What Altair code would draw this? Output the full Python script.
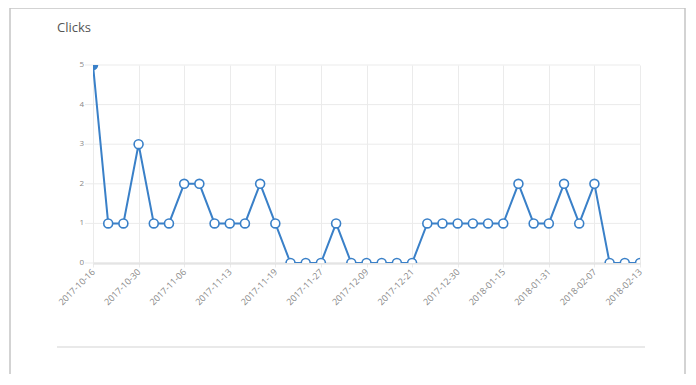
import altair as alt
import pandas as pd

# ---- data ----
clicks = [5, 1, 1, 3, 1, 1, 2, 2, 1, 1,
          1, 2, 1, 0, 0, 0, 1, 0, 0, 0,
          0, 0, 1, 1, 1, 1, 1, 1, 2, 1,
          1, 2, 1, 2, 0, 0, 0]
tick_labels = ["2017-10-16", "2017-10-30", "2017-11-06", "2017-11-13",
               "2017-11-19", "2017-11-27", "2017-12-09", "2017-12-21",
               "2017-12-30", "2018-01-15", "2018-01-31", "2018-02-07",
               "2018-02-13"]
label_every = 3
y_ticks = [0, 1, 2, 3, 4, 5]
chart_title = "Clicks"

df = pd.DataFrame({"i": list(range(len(clicks))), "clicks": clicks})
ydf = pd.DataFrame({"v": y_ticks})
one = pd.DataFrame({"k": [0]})

BLUE = "#3a80c8"
GRID = "#ebebeb"
W, H = 547, 198

label_arr = "[" + ",".join(f"'{s}'" for s in tick_labels) + "]"
yscale = alt.Scale(domain=[0, 5], nice=False)

x_enc = alt.X("i:Q",
              scale=alt.Scale(domain=[0, len(clicks) - 1], nice=False, zero=False),
              axis=alt.Axis(values=list(range(0, len(clicks), label_every)),
                            labelExpr=f"{label_arr}[round(datum.value/{label_every})]",
                            title=None, grid=True, gridColor=GRID,
                            domainColor="#dcdcdc", domainWidth=2,
                            tickColor=GRID, tickSize=4,
                            labelAngle=-45, labelAlign="right", labelBaseline="middle",
                            labelFontSize=9, labelColor="#888", labelPadding=3,
                            labelOverlap=False, labelFont="Open Sans"))
y_enc = alt.Y("clicks:Q", scale=yscale, axis=None)

# horizontal grid + y labels drawn from the tick list
ygrid = alt.Chart(ydf).mark_rule(color=GRID, strokeWidth=1).encode(
    y=alt.Y("v:Q", scale=yscale, axis=None), x=alt.value(-8), x2=alt.value(W))
ylab = alt.Chart(ydf).mark_text(align="right", baseline="middle", fontSize=8,
                                color="#888", font="Open Sans").encode(
    y=alt.Y("v:Q", scale=yscale, axis=None), x=alt.value(-9), text="v:Q")

base = alt.Chart(df)
line = base.mark_line(color=BLUE, strokeWidth=2, clip=True).encode(x=x_enc, y=y_enc)
pts = base.mark_point(shape="circle", size=80, strokeWidth=1.6, color=BLUE,
                      filled=False, clip=True, opacity=1).encode(
    x=x_enc, y=y_enc,
    fill=alt.condition("datum.i == 0", alt.value(BLUE), alt.value("white")))

# page decorations (card frame, title, divider)
frame_color = "#c4c4c4"
left_edge = alt.Chart(one).mark_rule(color=frame_color, strokeWidth=1.5).encode(
    x=alt.value(-83), y=alt.value(-57), y2=alt.value(309))
right_edge = alt.Chart(one).mark_rule(color=frame_color, strokeWidth=1.5).encode(
    x=alt.value(592), y=alt.value(-57), y2=alt.value(309))
top_edge = alt.Chart(one).mark_rule(color=frame_color, strokeWidth=1.5).encode(
    x=alt.value(-83), x2=alt.value(592), y=alt.value(-57))
title = alt.Chart(one).mark_text(text=chart_title, align="left", baseline="middle",
                                 fontSize=13, color="#555", font="Open Sans").encode(
    x=alt.value(-36), y=alt.value(-37))
divider = alt.Chart(one).mark_rule(color="#e2e2e2", strokeWidth=1.5).encode(
    x=alt.value(-36), x2=alt.value(552), y=alt.value(282))

chart = alt.layer(ygrid, ylab, line, pts, left_edge, right_edge, top_edge,
                  title, divider).properties(
    width=W, height=H,
    autosize=alt.AutoSizeParams(type="none"),
    padding={"left": 85, "top": 57, "right": 46, "bottom": 112},
    background="white",
).configure_view(stroke=None)

chart.save("out.html", embed_options={"renderer": "svg", "actions": False})
